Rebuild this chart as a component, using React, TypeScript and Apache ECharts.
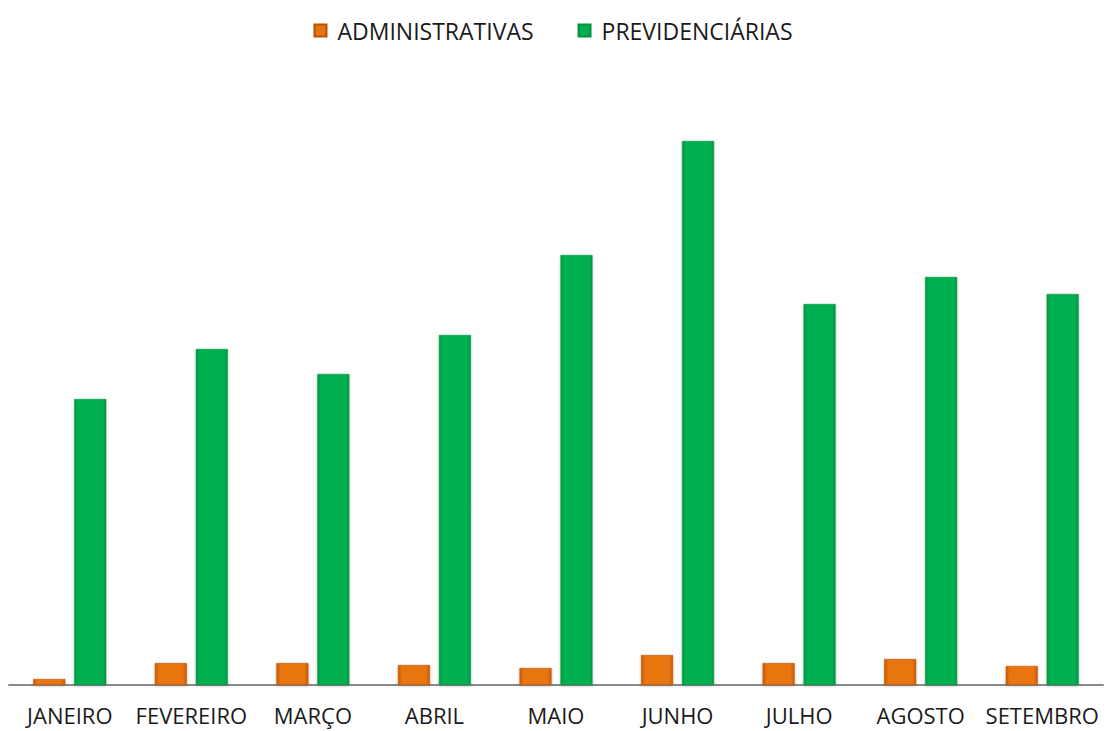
import React, { useEffect, useRef } from "react";
import * as echarts from "echarts";

const categories = ["JANEIRO", "FEVEREIRO", "MARÇO", "ABRIL", "MAIO", "JUNHO", "JULHO", "AGOSTO", "SETEMBRO"];
const administrativas = [6, 22, 22, 20, 17, 30, 22, 26, 19];
const previdenciarias = [286, 336, 311, 350, 430, 544, 381, 408, 391];
const seriesNames = ["ADMINISTRATIVAS", "PREVIDENCIÁRIAS"];

const FONT = "Open Sans";

function hGrad(edge: string, mid: string) {
  return new echarts.graphic.LinearGradient(0, 0, 1, 0, [
    { offset: 0, color: edge },
    { offset: 0.12, color: mid },
    { offset: 0.88, color: mid },
    { offset: 1, color: edge },
  ]);
}

export default function App() {
  const ref = useRef<HTMLDivElement>(null);
  useEffect(() => {
    document.body.style.margin = "0";
    const chart = echarts.init(ref.current!, null, { renderer: "svg" });
    chart.setOption({
      animation: false,
      backgroundColor: "#ffffff",
      legend: {
        top: 14,
        left: "center",
        itemWidth: 12,
        itemHeight: 12,
        itemGap: 44,
        icon: "rect",
        textStyle: { fontFamily: FONT, fontSize: 23, color: "#1a1a1a", padding: [0, 0, 0, 6] },
        data: seriesNames,
      },
      grid: { left: 9, right: 3, top: 85, bottom: 46, containLabel: false },
      xAxis: {
        type: "category",
        data: categories,
        axisLine: { show: true, lineStyle: { color: "#8a8a8a", width: 2 } },
        axisTick: { show: false },
        axisLabel: { fontFamily: FONT, fontSize: 22, lineHeight: 24, color: "#1a1a1a", margin: 18, interval: 0 },
      },
      yAxis: {
        type: "value",
        min: 0,
        max: 600,
        show: false,
        splitLine: { show: false },
      },
      series: [
        {
          name: seriesNames[0],
          type: "bar",
          data: administrativas,
          barWidth: 32,
          barGap: "28%",
          itemStyle: {
            color: hGrad("#c85a06", "#e8740f"),
            borderColor: "#b85205",
            borderWidth: 0.5,
            shadowColor: "rgba(0,0,0,0.25)",
            shadowBlur: 3,
            shadowOffsetY: 1,
          },
        },
        {
          name: seriesNames[1],
          type: "bar",
          data: previdenciarias,
          barWidth: 32,
          itemStyle: {
            color: hGrad("#069a44", "#00b050"),
            borderColor: "#05903f",
            borderWidth: 0.5,
            shadowColor: "rgba(0,0,0,0.25)",
            shadowBlur: 3,
            shadowOffsetY: 1,
          },
        },
      ],
    });
    return () => chart.dispose();
  }, []);
  return <div ref={ref} style={{ position: "absolute", left: 0, top: 0, width: 1106, height: 731 }} />;
}
